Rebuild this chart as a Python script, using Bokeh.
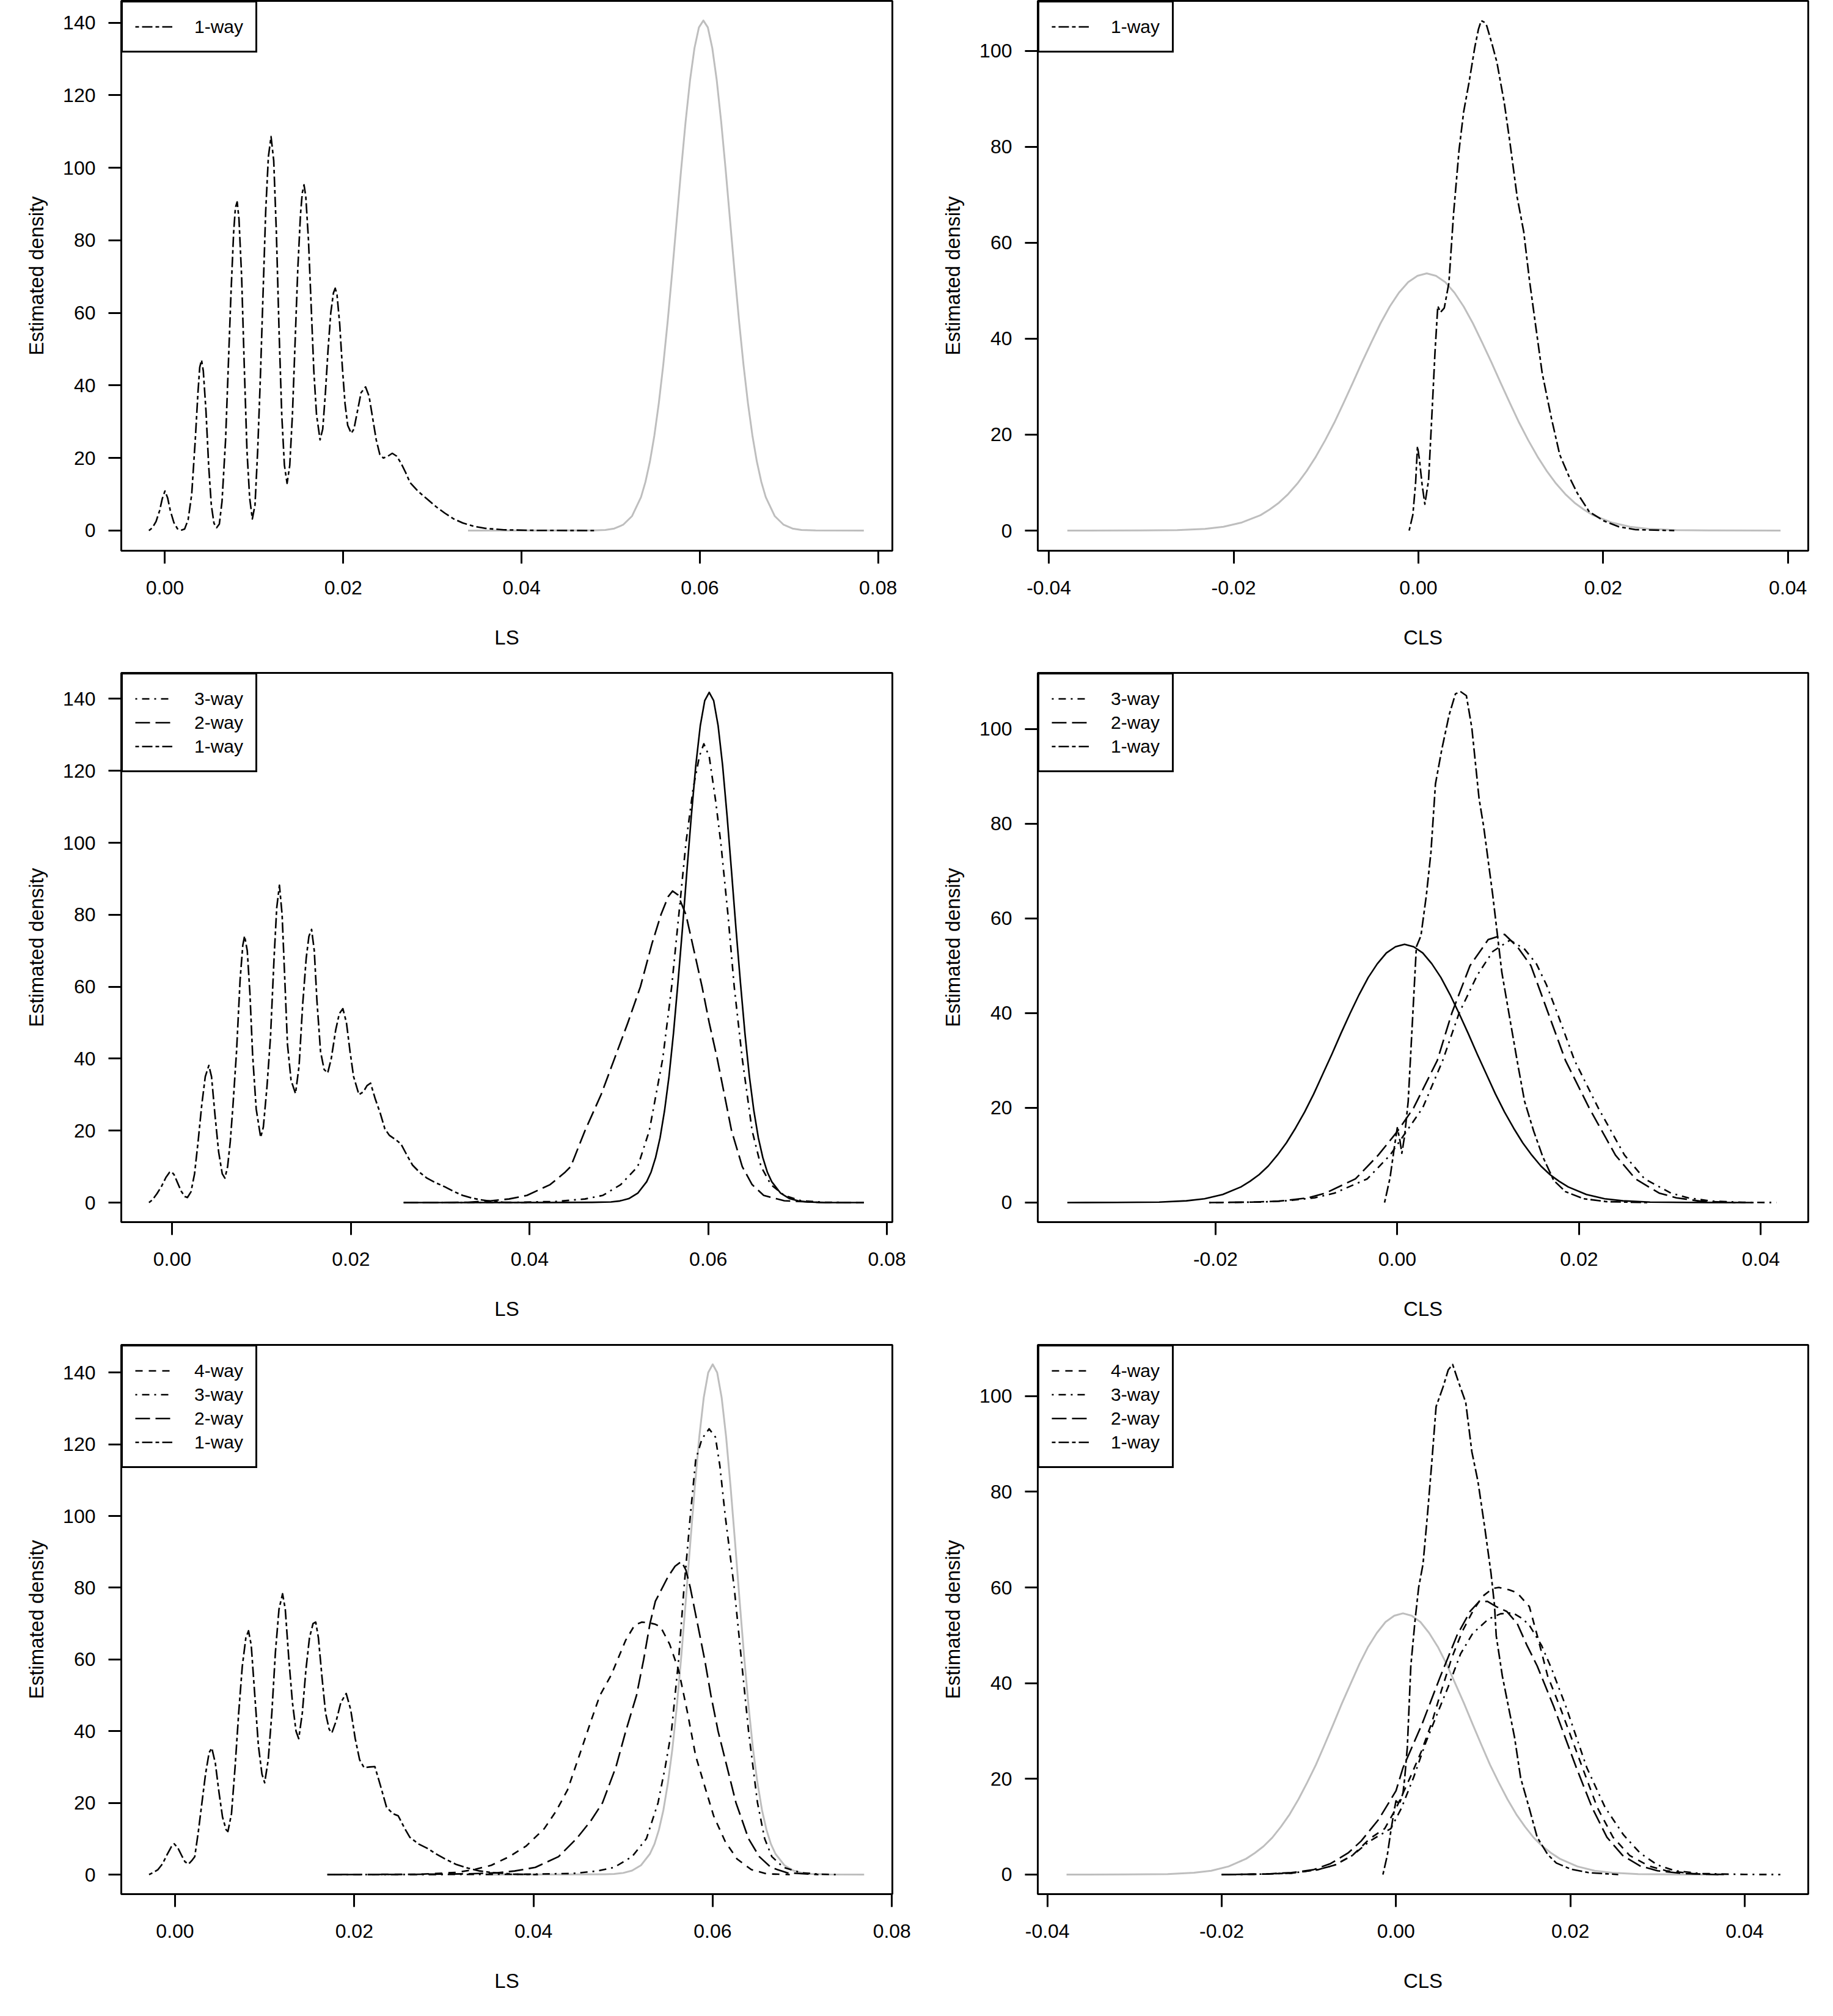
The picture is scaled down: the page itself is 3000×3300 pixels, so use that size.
from bokeh.plotting import figure
from bokeh.layouts import gridplot
from bokeh.models import FixedTicker, NumeralTickFormatter, Legend, LegendItem, Range1d
from bokeh.embed import file_html
from bokeh.resources import INLINE

# ---------------- data (x, estimated density) ----------------
LS_TICKS = [0.00, 0.02, 0.04, 0.06, 0.08]
CLS_TICKS = [-0.04, -0.02, 0.00, 0.02, 0.04]
LS_Y_TICKS = [0, 20, 40, 60, 80, 100, 120, 140]
CLS_Y_TICKS = [0, 20, 40, 60, 80, 100]

TL_REF = [(0.0340,0),(0.0450,0.02),(0.0480,0.05),(0.0494,0.17),(0.0504,0.55),(0.0514,1.6),(0.0524,4.0),(0.0534,9.2),(0.0539,13.4),(0.0544,19.0),(0.0549,26.2),(0.0554,35.1),(0.0559,45.7),(0.0564,57.8),(0.0569,71.2),(0.0574,85.3),(0.0579,99.4),(0.0584,112.6),(0.0589,124.1),(0.0594,133.0),(0.0599,138.7),(0.0604,140.6),
          (0.0609,138.7),(0.0614,133.0),(0.0619,124.1),(0.0624,112.6),(0.0629,99.4),(0.0634,85.3),(0.0639,71.2),(0.0644,57.8),(0.0649,45.7),(0.0654,35.1),(0.0659,26.2),(0.0664,19.0),(0.0669,13.4),(0.0674,9.2),(0.0684,4.0),(0.0694,1.6),(0.0704,0.55),(0.0714,0.17),(0.0730,0.03),(0.0784,0)]
TL_1WAY = [(-0.0018,0),(-0.0014,0.8),(-0.0010,2.5),(-0.0006,5.5),(-0.0003,8.8),(0.0000,10.9),(0.0003,9),(0.0006,5.5),(0.0010,2.2),(0.0014,0.5),(0.0018,0.1),(0.0022,0.4),
           (0.0026,3),(0.0030,10),(0.0034,25),(0.0037,38),(0.0039,45),(0.0041,47),(0.0043,44),(0.0046,33),(0.0049,18),(0.0052,7),(0.0055,2),(0.0058,0.8),(0.0061,1.8),
           (0.0064,8),(0.0068,25),(0.0071,45),(0.0074,65),(0.0077,82),(0.0079,89),(0.0081,90.6),(0.0083,86),(0.0086,70),(0.0089,45),(0.0092,22),(0.0095,9),(0.0098,3.2),(0.0101,7),
           (0.0104,22),(0.0107,42),(0.0110,65),(0.0113,88),(0.0116,103),(0.0119,108.6),(0.0122,102),(0.0125,82),(0.0128,55),(0.0131,32),(0.0134,18),(0.0137,13),(0.0140,18),
           (0.0143,32),(0.0146,52),(0.0149,72),(0.0152,87),(0.0154,93),(0.0156,95.3),(0.0158,92),(0.0161,80),(0.0164,62),(0.0167,44),(0.0170,32),(0.0174,25),(0.0177,28),
           (0.0180,38),(0.0183,50),(0.0186,60),(0.0189,65.5),(0.0191,66.8),(0.0193,65),(0.0196,57),(0.0199,45),(0.0202,35),(0.0205,29),(0.0209,26.8),(0.0212,28),
           (0.0216,33),(0.0220,38),(0.0225,39.6),(0.0229,37),(0.0233,31),(0.0237,25),(0.0241,21),(0.0245,20),(0.0250,20.5),(0.0255,21.3),(0.0260,20.5),(0.0265,18.5),(0.0270,16),(0.0275,13.2),
           (0.0284,10.8),(0.0294,8.7),(0.0304,6.6),(0.0314,4.8),(0.0324,3.2),(0.0334,2.1),(0.0346,1.2),(0.0360,0.6),(0.0380,0.2),(0.0415,0.05),(0.0484,0)]

TR_REF = [(-0.0380,0),(-0.0300,0.02),(-0.0261,0.1),(-0.0231,0.36),(-0.0211,0.8),(-0.0191,1.7),(-0.0171,3.2),(-0.0161,4.4),(-0.0151,5.8),(-0.0141,7.6),(-0.0131,9.8),(-0.0121,12.4),(-0.0111,15.4),(-0.0101,18.8),(-0.0091,22.5),(-0.0081,26.6),(-0.0071,30.8),(-0.0061,35.1),(-0.0051,39.2),(-0.0041,43.2),(-0.0031,46.7),(-0.0021,49.6),(-0.0011,51.8),(-0.0001,53.1),(0.0009,53.6),
          (0.0019,53.1),(0.0029,51.8),(0.0039,49.6),(0.0049,46.7),(0.0059,43.2),(0.0069,39.2),(0.0079,35.1),(0.0089,30.8),(0.0099,26.6),(0.0109,22.5),(0.0119,18.8),(0.0129,15.4),(0.0139,12.4),(0.0149,9.8),(0.0159,7.6),(0.0169,5.8),(0.0179,4.4),(0.0189,3.2),(0.0209,1.7),(0.0229,0.8),(0.0249,0.36),(0.0279,0.1),(0.0320,0.02),(0.0392,0)]
TR_1WAY = [(-0.0010,0),(-0.0006,3.3),(-0.0003,10),(-0.0001,17.6),(0.0001,15),(0.0004,9.6),(0.0007,5.5),(0.0011,10.5),(0.0015,25.6),(0.0018,37.3),(0.0021,46.8),(0.0024,45.5),(0.0028,46.4),(0.0033,51.6),(0.0038,65.9),(0.0044,79.3),(0.0049,87.3),(0.0055,93.6),(0.0061,100.7),(0.0065,104.5),(0.0068,106.3),(0.0071,106),(0.0074,105.2),(0.0080,101.2),(0.0085,97.6),(0.0093,89.1),(0.0099,81),(0.0107,69.4),(0.0114,62.3),(0.0120,52.5),(0.0127,42.6),(0.0134,32.8),(0.0144,23.4),(0.0153,15.8),(0.0163,11.3),(0.0172,7.8),(0.0185,3.9),(0.0201,2.0),(0.0217,0.8),(0.0235,0.2),(0.0277,0)]

ML_REF = [(0.0260,0),(0.0420,0.02),(0.0470,0.06),(0.0491,0.17),(0.0501,0.45),(0.0511,1.1),(0.0521,2.6),(0.0531,5.8),(0.0536,8.5),(0.0541,12.5),(0.0546,18),(0.0551,25.5),(0.0556,35),(0.0561,47),(0.0566,61),(0.0571,76),(0.0576,92),(0.0581,107.5),(0.0586,121.5),(0.0591,132.5),(0.0596,139.5),(0.0601,141.8),
          (0.0606,139.5),(0.0611,132.5),(0.0616,121.5),(0.0621,107.5),(0.0626,92),(0.0631,76),(0.0636,61),(0.0641,47),(0.0646,35),(0.0651,25.5),(0.0656,18),(0.0661,12.5),(0.0666,8.5),(0.0671,5.8),(0.0681,2.6),(0.0691,1.1),(0.0701,0.45),(0.0711,0.17),(0.0730,0.03),(0.0774,0)]
ML_3WAY = [(0.0259,0),(0.0380,0.05),(0.0429,0.3),(0.0462,1),(0.0482,2),(0.0502,5),(0.0521,10),(0.0534,20),(0.0549,40),(0.0559,60),(0.0567,80),(0.0575,100),(0.0583,115),(0.0590,124),(0.0595,127.5),(0.0601,124),(0.0608,112),(0.0614,100),(0.0622,80),(0.0629,60),(0.0638,40),(0.0649,20),(0.0659,10),(0.0670,5),(0.0685,2),(0.0704,0.5),(0.0730,0.1),(0.0774,0)]
ML_2WAY = [(0.0259,0),(0.0300,0.03),(0.0331,0.1),(0.0357,0.5),(0.0377,1),(0.0397,2),(0.0423,5),(0.0440,8.5),(0.0446,10),(0.0462,20),(0.0480,30),(0.0495,40),(0.0510,50),(0.0524,60),(0.0537,72),(0.0547,80),(0.0555,85),(0.0560,86.6),(0.0566,85.5),(0.0575,80),(0.0584,70),(0.0593,60),(0.0601,50),(0.0610,40),(0.0618,30),(0.0626,20),(0.0638,10),(0.0649,5),(0.0662,2),(0.0685,0.5),(0.0724,0.05),(0.0774,0)]
ML_1WAY = [(-0.0026,0),(-0.0022,0.8),(-0.0017,2.5),(-0.0012,4.5),(-0.0007,7),(-0.0003,8.4),(-0.0001,8.6),(0.0002,7.8),(0.0006,5.5),(0.0010,3.2),(0.0014,1.7),(0.0017,1.4),
           (0.0021,3),(0.0025,8),(0.0029,17),(0.0033,27),(0.0037,35),(0.0041,38.1),(0.0044,35),(0.0048,24),(0.0052,14),(0.0056,8),(0.0059,6.8),
           (0.0062,10),(0.0065,17),(0.0068,27),(0.0072,42),(0.0076,62),(0.0079,71.5),(0.0081,74.1),(0.0084,70),(0.0087,58),(0.0090,41),(0.0094,26),(0.0099,18.1),
           (0.0102,21),(0.0106,32),(0.0110,46),(0.0114,68),(0.0117,82),(0.0120,88.2),(0.0123,80),(0.0126,62),(0.0129,44),(0.0133,34),(0.0138,30.3),
           (0.0142,38),(0.0146,55),(0.0150,68),(0.0153,74),(0.0156,75.9),(0.0159,70),(0.0162,56),(0.0166,42),(0.0170,37),(0.0174,36),
           (0.0178,40),(0.0183,48),(0.0187,52.5),(0.0191,53.9),(0.0195,50),(0.0199,42),(0.0203,35),(0.0209,30),
           (0.0214,30.8),(0.0218,32.5),(0.0222,33.2),(0.0227,29),(0.0233,24.7),(0.0238,20.5),(0.0243,18.7),(0.0250,17.5),(0.0256,16.3),(0.0262,13.5),(0.0269,10.4),
           (0.0277,8.4),(0.0285,6.8),(0.0295,5.5),(0.0305,4.4),(0.0315,3.1),(0.0325,2),(0.0335,1.3),(0.0344,0.8),(0.0360,0.3),(0.0371,0.1),(0.0397,0)]

MR_REF = [(-0.0363,0),(-0.0310,0.02),(-0.0262,0.1),(-0.0232,0.37),(-0.0212,0.8),(-0.0192,1.7),(-0.0172,3.3),(-0.0162,4.5),(-0.0152,5.9),(-0.0142,7.7),(-0.0132,10.0),(-0.0122,12.6),(-0.0112,15.7),(-0.0102,19.1),(-0.0092,22.9),(-0.0082,27.1),(-0.0072,31.3),(-0.0062,35.7),(-0.0052,39.9),(-0.0042,43.9),(-0.0032,47.5),(-0.0022,50.4),(-0.0012,52.7),(-0.0002,54.0),(0.0008,54.5),
          (0.0018,54.0),(0.0028,52.7),(0.0038,50.4),(0.0048,47.5),(0.0058,43.9),(0.0068,39.9),(0.0078,35.7),(0.0088,31.3),(0.0098,27.1),(0.0108,22.9),(0.0118,19.1),(0.0128,15.7),(0.0138,12.6),(0.0148,10.0),(0.0158,7.7),(0.0168,5.9),(0.0178,4.5),(0.0188,3.3),(0.0208,1.7),(0.0228,0.8),(0.0248,0.37),(0.0278,0.1),(0.0320,0.02),(0.0392,0)]
MR_3WAY = [(-0.0207,0),(-0.0150,0.1),(-0.0120,0.4),(-0.0091,1),(-0.0069,2),(-0.0033,5),(-0.0008,10),(0.0028,20),(0.0050,30),(0.0068,40),(0.0088,48),(0.0105,53),(0.0124,55.4),(0.0140,53.5),(0.0153,50.4),(0.0164,46),(0.0176,40),(0.0195,30),(0.0221,20),(0.0250,10),(0.0272,5),(0.0301,2),(0.0320,1),(0.0346,0.3),(0.0380,0.05),(0.0417,0)]
MR_2WAY = [(-0.0207,0),(-0.0160,0.1),(-0.0130,0.3),(-0.0098,1),(-0.0079,2),(-0.0046,5),(-0.0021,10),(0.0000,15),(0.0018,20),(0.0044,30),(0.0060,40),(0.0080,50),(0.0100,55.5),(0.0118,56.6),(0.0132,54),(0.0147,50),(0.0166,40),(0.0185,30),(0.0211,20),(0.0240,10),(0.0262,5),(0.0288,2),(0.0307,1),(0.0333,0.3),(0.0372,0)]
MR_1WAY = [(-0.0014,0),(-0.0008,5.2),(-0.0003,12),(0.0000,15.8),(0.0003,13),(0.0005,10.4),(0.0008,14),(0.0012,21.4),(0.0017,39.5),(0.0021,54),(0.0026,56.3),(0.0032,64.9),(0.0037,73.9),(0.0042,88.4),(0.0049,95.7),(0.0057,102.9),(0.0064,107.4),(0.0070,107.8),(0.0076,107),(0.0082,100.2),(0.0090,85.2),(0.0095,79.4),(0.0105,64.9),(0.0115,48.6),(0.0124,38.6),(0.0133,28.7),(0.0140,21.4),(0.0150,15.1),(0.0160,9.7),(0.0172,4.7),(0.0185,2.3),(0.0205,0.8),(0.0230,0.2),(0.0275,0)]

BL_REF = [(0.0347,0),(0.0440,0.03),(0.0480,0.1),(0.0490,0.17),(0.0500,0.45),(0.0510,1.1),(0.0520,2.6),(0.0530,5.8),(0.0535,8.5),(0.0540,12.5),(0.0545,18),(0.0550,25.5),(0.0555,35),(0.0560,47),(0.0565,61),(0.0570,76.5),(0.0575,92.5),(0.0580,108),(0.0585,122),(0.0590,133),(0.0595,140),(0.0600,142.3),
          (0.0605,140),(0.0610,133),(0.0615,122),(0.0620,108),(0.0625,92.5),(0.0630,76.5),(0.0635,61),(0.0640,47),(0.0645,35),(0.0650,25.5),(0.0655,18),(0.0660,12.5),(0.0665,8.5),(0.0670,5.8),(0.0680,2.6),(0.0690,1.1),(0.0700,0.45),(0.0710,0.17),(0.0730,0.03),(0.0769,0)]
BL_4WAY = [(0.0170,0),(0.0275,0.1),(0.0314,0.6),(0.0334,1.4),(0.0353,2.6),(0.0373,5),(0.0392,8),(0.0412,12.8),(0.0425,17.6),(0.0438,23.6),(0.0451,33.1),(0.0464,42.7),(0.0474,49.9),(0.0487,55.8),(0.0503,65.4),(0.0513,69.6),(0.0521,70.4),(0.0529,70.2),(0.0536,69.8),(0.0542,69),(0.0552,64.2),(0.0562,57),(0.0572,45),(0.0581,33.1),(0.0591,24.7),(0.0601,16.4),(0.0614,9.2),(0.0627,4.4),(0.0643,1.4),(0.0660,0.2),(0.0686,0)]
BL_3WAY = [(0.0170,0),(0.0300,0.03),(0.0392,0.1),(0.0444,0.3),(0.0471,1),(0.0490,2),(0.0510,5),(0.0526,10),(0.0539,20),(0.0547,30),(0.0554,40),(0.0562,60),(0.0568,80),(0.0575,100),(0.0581,115.6),(0.0588,121.5),(0.0596,124.3),(0.0603,122),(0.0608,114),(0.0614,100),(0.0624,80),(0.0632,60),(0.0640,40),(0.0650,20),(0.0658,10),(0.0666,5),(0.0679,2),(0.0699,0.5),(0.0720,0.1),(0.0740,0)]
BL_2WAY = [(0.0170,0),(0.0260,0.05),(0.0327,0.2),(0.0360,0.5),(0.0379,1),(0.0402,2),(0.0428,5),(0.0448,10),(0.0464,15),(0.0477,20),(0.0492,30),(0.0503,40),(0.0515,50),(0.0523,60),(0.0530,70),(0.0536,76.2),(0.0542,79.1),(0.0550,83),(0.0558,86),(0.0565,87.3),(0.0570,85),(0.0575,80),(0.0583,70),(0.0591,60),(0.0598,50),(0.0606,40),(0.0616,30),(0.0626,20),(0.0640,10),(0.0652,5),(0.0665,2),(0.0683,0.5),(0.0718,0)]
BL_1WAY = [(-0.0029,0),(-0.0024,0.6),(-0.0019,1.4),(-0.0014,3),(-0.0009,5.5),(-0.0004,7.8),(-0.0001,8.6),(0.0003,7.5),(0.0007,5.5),(0.0011,3.6),(0.0015,2.9),
           (0.0019,4),(0.0022,5),(0.0026,12),(0.0030,20),(0.0034,28),(0.0038,34),(0.0041,35.3),(0.0045,31),(0.0049,23),(0.0053,16),(0.0057,12.5),(0.0059,12),
           (0.0063,17),(0.0067,30),(0.0071,45),(0.0075,58),(0.0079,66),(0.0082,68),(0.0085,64),(0.0089,50),(0.0093,36),(0.0097,28),(0.0100,25.6),
           (0.0104,32),(0.0108,45),(0.0112,62),(0.0116,74),(0.0120,78.3),(0.0123,74),(0.0127,60),(0.0131,48),(0.0135,40),(0.0138,37.9),
           (0.0142,45),(0.0146,57),(0.0150,66),(0.0154,70),(0.0157,70.4),(0.0160,66),(0.0164,55),(0.0168,45),(0.0172,40.5),(0.0175,39.5),
           (0.0180,43),(0.0185,48),(0.0191,50.5),(0.0196,46),(0.0201,38),(0.0206,32),(0.0211,29.8),(0.0217,30),(0.0223,30.1),(0.0229,25),(0.0236,18.8),
           (0.0243,17),(0.0249,16.4),(0.0256,13),(0.0262,10.4),(0.0272,8.5),(0.0281,7.4),(0.0291,5.8),(0.0301,4.4),(0.0314,2.8),(0.0327,1.8),(0.0340,1),(0.0353,0.6),(0.0379,0.1),(0.0405,0)]

BR_REF = [(-0.0378,0),(-0.0310,0.02),(-0.0262,0.1),(-0.0232,0.37),(-0.0212,0.8),(-0.0192,1.7),(-0.0172,3.3),(-0.0162,4.5),(-0.0152,5.9),(-0.0142,7.7),(-0.0132,10.0),(-0.0122,12.6),(-0.0112,15.7),(-0.0102,19.2),(-0.0092,22.9),(-0.0082,27.1),(-0.0072,31.4),(-0.0062,35.8),(-0.0052,39.9),(-0.0042,44.0),(-0.0032,47.6),(-0.0022,50.5),(-0.0012,52.8),(-0.0002,54.1),(0.0008,54.6),
          (0.0018,54.1),(0.0028,52.8),(0.0038,50.5),(0.0048,47.6),(0.0058,44.0),(0.0068,39.9),(0.0078,35.8),(0.0088,31.4),(0.0098,27.1),(0.0108,22.9),(0.0118,19.2),(0.0128,15.7),(0.0138,12.6),(0.0148,10.0),(0.0158,7.7),(0.0168,5.9),(0.0178,4.5),(0.0188,3.3),(0.0208,1.7),(0.0228,0.8),(0.0248,0.37),(0.0278,0.1),(0.0320,0.02),(0.0382,0)]
BR_4WAY = [(-0.0200,0),(-0.0150,0.1),(-0.0120,0.3),(-0.0090,1),(-0.0070,2),(-0.0050,4),(-0.0030,7.5),(-0.0013,9.6),(0.0000,13.8),(0.0017,20.6),(0.0029,25.7),(0.0041,31.7),(0.0052,38.4),(0.0064,45.3),(0.0076,50.8),(0.0088,55),(0.0099,58.1),(0.0111,59.8),(0.0118,60),(0.0130,59.5),(0.0139,58.9),(0.0153,56),(0.0162,50),(0.0174,41.5),(0.0188,35.1),(0.0214,22.3),(0.0231,14),(0.0249,7.8),(0.0268,4),(0.0290,1.8),(0.0310,0.8),(0.0340,0.2),(0.0380,0)]
BR_3WAY = [(-0.0200,0),(-0.0150,0.1),(-0.0120,0.3),(-0.0090,1),(-0.0070,2),(-0.0050,4),(-0.0030,7),(-0.0006,9.6),(0.0006,13.8),(0.0020,20.2),(0.0034,27.5),(0.0046,33),(0.0060,39.3),(0.0074,46.1),(0.0088,50.4),(0.0106,53.4),(0.0120,54.5),(0.0134,54.7),(0.0145,53.5),(0.0153,52.1),(0.0167,47.9),(0.0179,42.8),(0.0195,35.1),(0.0219,22.3),(0.0240,14),(0.0261,8.3),(0.0280,4.5),(0.0300,2),(0.0320,0.8),(0.0350,0.2),(0.0400,0.03),(0.0441,0)]
BR_2WAY = [(-0.0200,0),(-0.0150,0.1),(-0.0120,0.4),(-0.0095,1),(-0.0075,2.3),(-0.0055,4.5),(-0.0040,7),(-0.0020,11.5),(0.0000,17.5),(0.0008,22.3),(0.0030,31.5),(0.0050,41),(0.0070,50),(0.0085,55),(0.0095,57),(0.0105,57.1),(0.0115,56),(0.0127,55),(0.0139,52.5),(0.0150,48),(0.0162,43.6),(0.0181,35.1),(0.0207,22.3),(0.0225,14),(0.0242,7.8),(0.0260,4),(0.0280,1.8),(0.0300,0.8),(0.0330,0.2),(0.0370,0)]
BR_1WAY = [(-0.0015,0),(-0.0010,4),(-0.0006,9),(-0.0002,13.5),(0.0000,15.4),(0.0004,14.8),(0.0008,17),(0.0010,20.2),(0.0013,26.6),(0.0015,35.1),(0.0017,43.6),(0.0022,53.4),(0.0026,60),(0.0031,64.9),(0.0036,75),(0.0041,86),(0.0046,97.8),(0.0054,101.9),(0.0060,105.5),(0.0065,106.6),(0.0072,102.8),(0.0080,98.7),(0.0087,88.4),(0.0094,82.2),(0.0102,72.3),(0.0109,63),(0.0113,56.3),(0.0115,49.9),(0.0122,41.5),(0.0129,35.1),(0.0136,28.7),(0.0143,20.2),(0.0153,13.8),(0.0162,7.8),(0.0174,4.2),(0.0184,2.4),(0.0201,1.1),(0.0221,0.4),(0.0255,0)]

# ---------------- styles ----------------
FONT = "Liberation Sans"
GRAY = "#BEBEBE"
LW = 2.6
STYLE = {
    "4-way": dict(line_color="black", line_width=LW, line_dash="12 10"),
    "3-way": dict(line_color="black", line_width=LW, line_dash="3 8 12 8"),
    "2-way": dict(line_color="black", line_width=LW, line_dash="24 9"),
    "1-way": dict(line_color="black", line_width=LW, line_dash="6 5 17 5"),
}


def panel(width, height, b_left, b_right, b_top, b_bottom, xr, yr, xticks, yticks, xlabel,
          ref, ref_color, series):
    p = figure(width=width, height=height, x_range=Range1d(*xr), y_range=Range1d(*yr),
               output_backend="svg", toolbar_location=None,
               min_border_left=b_left, min_border_right=b_right,
               min_border_top=b_top, min_border_bottom=b_bottom)
    p.xgrid.visible = False
    p.ygrid.visible = False
    p.outline_line_color = "black"
    p.outline_line_width = 3
    p.outline_line_alpha = 1.0
    p.background_fill_color = "white"
    p.border_fill_color = "white"

    for ax in (p.xaxis[0], p.yaxis[0]):
        ax.axis_line_color = None
        ax.major_tick_line_width = 3
        ax.major_tick_line_color = "black"
        ax.major_tick_out = 21
        ax.major_tick_in = 0
        ax.minor_tick_line_color = None
        ax.major_label_text_font = FONT
        ax.major_label_text_font_size = "32px"
        ax.major_label_text_color = "black"
        ax.axis_label_text_font = FONT
        ax.axis_label_text_font_size = "33px"
        ax.axis_label_text_font_style = "normal"
        ax.axis_label_text_color = "black"
    p.xaxis.ticker = FixedTicker(ticks=xticks, minor_ticks=[])
    p.xaxis.formatter = NumeralTickFormatter(format="0.00")
    p.xaxis.major_label_standoff = 28
    p.xaxis.axis_label = xlabel
    p.xaxis.axis_label_standoff = 49
    p.yaxis.ticker = FixedTicker(ticks=yticks, minor_ticks=[])
    p.yaxis.major_label_standoff = 21
    p.yaxis.major_label_orientation = "horizontal"
    p.yaxis.axis_label = "Estimated density"
    p.yaxis.axis_label_standoff = 22

    p.line([pt[0] for pt in ref], [pt[1] for pt in ref], line_color=ref_color,
           line_width=3 if ref_color == GRAY else LW, line_join="round")

    items = []
    for name, pts in series:
        r = p.line([pt[0] for pt in pts], [pt[1] for pt in pts], line_join="round", **STYLE[name])
        items.append(LegendItem(label=name, renderers=[r]))
    legend = Legend(items=items, location="top_left", margin=0, padding=20, spacing=0,
                    glyph_width=61, glyph_height=39, label_height=39, label_standoff=36,
                    label_text_font=FONT, label_text_font_size="30px",
                    label_text_color="black",
                    border_line_color="black", border_line_width=3, border_line_alpha=1.0,
                    background_fill_color="white", background_fill_alpha=1.0)
    p.add_layout(legend)
    return p


# left column frame x 198..1460 ; right column frame 1698..2959 ; rows of 1100 px
p1 = panel(1500, 1100, 198, 40, 1, 199, (-0.0049, 0.0816), (-5.56, 146.0), LS_TICKS, LS_Y_TICKS, "LS",
           TL_REF, GRAY, [("1-way", TL_1WAY)])
p2 = panel(1492, 1100, 198, 33, 1, 199, (-0.0412, 0.0422), (-4.2, 110.4), CLS_TICKS, CLS_Y_TICKS, "CLS",
           TR_REF, GRAY, [("1-way", TR_1WAY)])
p3 = panel(1500, 1100, 198, 40, 1, 200, (-0.0057, 0.0806), (-5.43, 147.2), LS_TICKS, LS_Y_TICKS, "LS",
           ML_REF, "black", [("3-way", ML_3WAY), ("2-way", ML_2WAY), ("1-way", ML_1WAY)])
p4 = panel(1492, 1100, 198, 33, 1, 200, (-0.03955, 0.04521), (-4.13, 111.8), CLS_TICKS, CLS_Y_TICKS, "CLS",
           MR_REF, "black", [("3-way", MR_3WAY), ("2-way", MR_2WAY), ("1-way", MR_1WAY)])
p5 = panel(1500, 1092, 198, 40, 1, 192, (-0.0060, 0.08005), (-5.45, 147.7), LS_TICKS, LS_Y_TICKS, "LS",
           BL_REF, GRAY, [("4-way", BL_4WAY), ("3-way", BL_3WAY), ("2-way", BL_2WAY), ("1-way", BL_1WAY)])
p6 = panel(1492, 1092, 198, 33, 1, 192, (-0.0411, 0.0473), (-4.09, 110.7), CLS_TICKS, CLS_Y_TICKS, "CLS",
           BR_REF, GRAY, [("4-way", BR_4WAY), ("3-way", BR_3WAY), ("2-way", BR_2WAY), ("1-way", BR_1WAY)])

grid = gridplot([[p1, p2], [p3, p4], [p5, p6]], toolbar_location=None)

open("out.html", "w").write(file_html(grid, INLINE))
